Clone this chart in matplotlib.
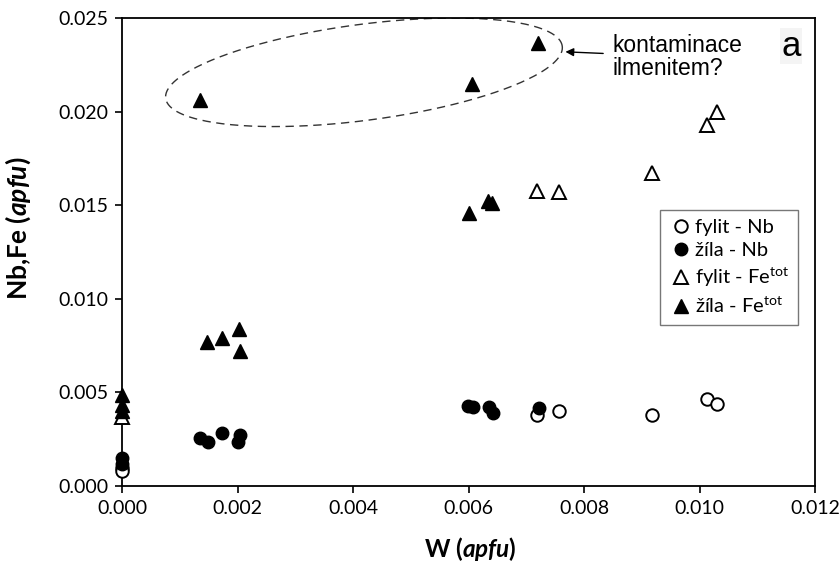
import numpy as np
import matplotlib
matplotlib.use("Agg")
import matplotlib.pyplot as plt

plt.rcParams['font.family'] = ['Lato', 'DejaVu Sans']
plt.rcParams['mathtext.fontset'] = 'custom'
plt.rcParams['mathtext.rm'] = 'Lato'
plt.rcParams['mathtext.it'] = 'Lato:italic:bold'

# fylit - Nb (open circles)
fylit_nb_x = [0.0, 0.0, 0.00718, 0.00757, 0.00918, 0.01013, 0.0103]
fylit_nb_y = [0.00096, 0.00078, 0.0038, 0.0040, 0.0038, 0.00465, 0.0044]
# žíla - Nb (filled circles)
zila_nb_x = [0.0, 0.0, 0.00135, 0.00149, 0.00173, 0.00204, 0.00201,
             0.00599, 0.00607, 0.00636, 0.00642, 0.00722]
zila_nb_y = [0.0015, 0.0012, 0.00256, 0.00235, 0.00283, 0.00272, 0.00235,
             0.00427, 0.00424, 0.00424, 0.0039, 0.00417]
# fylit - Fe tot (open triangles)
fylit_fe_x = [0.0, 0.00719, 0.00757, 0.00918, 0.01013, 0.0103]
fylit_fe_y = [0.0037, 0.01576, 0.0157, 0.0167, 0.0193, 0.0200]
# žíla - Fe tot (filled triangles)
zila_fe_x = [0.0, 0.0, 0.0, 0.00135, 0.00147, 0.00173, 0.00203, 0.00204,
             0.006, 0.00634, 0.0064, 0.00606, 0.0072]
zila_fe_y = [0.00486, 0.00433, 0.00400, 0.0206, 0.0077, 0.0079, 0.0084, 0.0072,
             0.01458, 0.0152, 0.0151, 0.0215, 0.02366]

fig = plt.figure(figsize=(8.4, 5.64), dpi=100)
ax = fig.add_axes([122/840, 1-486/564, (815-122)/840, (486-18)/564])

ms_c = 9
ms_t = 9.5
ax.plot(fylit_nb_x, fylit_nb_y, 'o', ms=ms_c, mfc='white', mec='black', mew=1.4,
        ls='none', label='fylit - Nb', zorder=3, clip_on=False)
ax.plot(zila_nb_x, zila_nb_y, 'o', ms=ms_c, mfc='black', mec='black', mew=1.0,
        ls='none', label='žíla - Nb', zorder=3, clip_on=False)
ax.plot(fylit_fe_x, fylit_fe_y, '^', ms=ms_t, mfc='white', mec='black', mew=1.4,
        ls='none', label=r'fylit - Fe$^{\rm tot}$', zorder=3, clip_on=False)
ax.plot(zila_fe_x, zila_fe_y, '^', ms=ms_t, mfc='black', mec='black', mew=1.0,
        ls='none', label=r'žíla - Fe$^{\rm tot}$', zorder=3, clip_on=False)

ax.set_xlim(0, 0.012)
ax.set_ylim(0, 0.025)
ax.set_xticks(np.arange(0, 0.0121, 0.002))
ax.set_yticks(np.arange(0, 0.0251, 0.005))
ax.xaxis.set_major_formatter(matplotlib.ticker.FormatStrFormatter('%.3f'))
ax.yaxis.set_major_formatter(matplotlib.ticker.FormatStrFormatter('%.3f'))
ax.tick_params(direction='out', length=5, width=1.2, labelsize=14, pad=5)
for s in ax.spines.values():
    s.set_linewidth(1.3)

ax.set_xlabel(r'W ($\it{apfu}$)', fontsize=17.5, fontweight='bold', va='center')
ax.set_ylabel(r'Nb,Fe ($\it{apfu}$)', fontsize=19, fontweight='bold', va='center')
ax.xaxis.set_label_coords(0.502, (486-549)/468)
ax.yaxis.set_label_coords((18-122)/693, 0.551)

# dashed ellipse (defined in pixel units, converted to data units)
pxx = 57750.0
pxy = 18720.0
cx, cy = 0.00419, 0.0221
a, b, th = 200.0, 48.0, np.deg2rad(7.5)
t = np.linspace(0, 2*np.pi, 300)
ex = cx + (a*np.cos(t)*np.cos(th) - b*np.sin(t)*np.sin(th)) / pxx
ey = cy + (a*np.cos(t)*np.sin(th) + b*np.sin(t)*np.cos(th)) / pxy
ax.plot(ex, ey, color='#333333', lw=1.0, ls=(0, (6, 4)), zorder=2)

ax.annotate('', xy=(0.00763, 0.0232), xytext=(0.00838, 0.0231),
            arrowprops=dict(arrowstyle='-|>', color='black', lw=1.0,
                            mutation_scale=12))
ax.text(0.0085, 0.0229, 'kontaminace\nilmenitem?', fontsize=16.5,
        va='center', ha='left', linespacing=1.02, family='Liberation Sans')
ax.text(0.01175, 0.0235, 'a', fontsize=25, ha='right', va='center',
        family='Liberation Sans',
        bbox=dict(facecolor='#f4f4f4', edgecolor='none', pad=1))

leg = ax.legend(loc='upper left', bbox_to_anchor=((660-122)/693, (486-210)/468),
                fontsize=14.5, frameon=True, fancybox=False, edgecolor='#555555',
                handletextpad=0.1, handlelength=1.2, borderpad=0.45,
                labelspacing=0.3, borderaxespad=0)
leg.get_frame().set_linewidth(1.0)

fig.savefig('out.png', dpi=100)
